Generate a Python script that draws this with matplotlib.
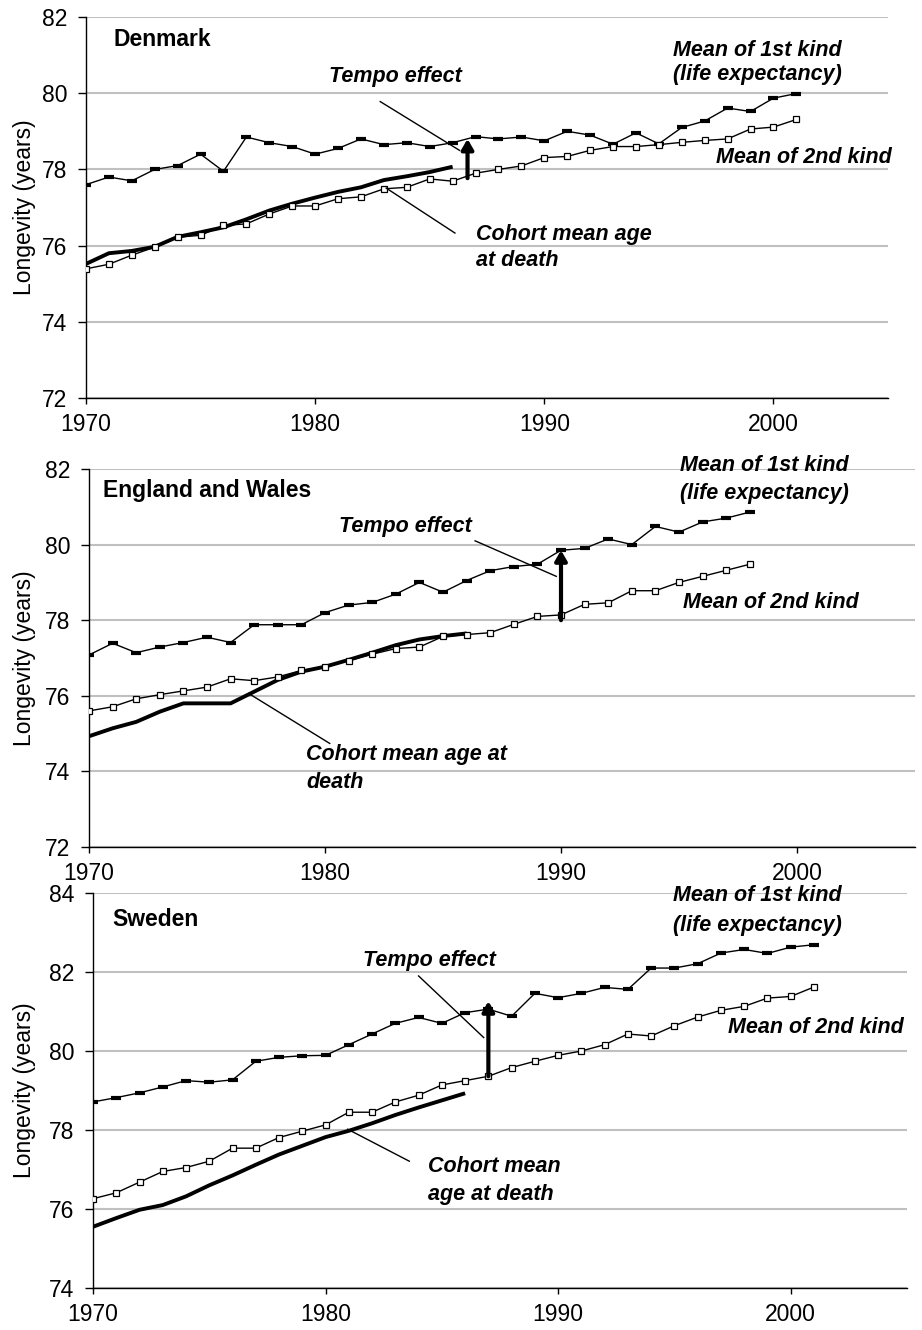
import numpy as np
import matplotlib
matplotlib.use('Agg')
import matplotlib.pyplot as plt
import matplotlib.transforms as mtransforms

plt.rcParams['font.family'] = ['Liberation Sans', 'DejaVu Sans']

# Data
dk_years = list(range(1970, 2002))
dk_first = [77.6, 77.8, 77.7, 78.0, 78.1, 78.4, 77.95, 78.85, 78.7, 78.6,
            78.4, 78.55, 78.8, 78.65, 78.7, 78.6, 78.7, 78.86, 78.8, 78.85,
            78.75, 79.0, 78.9, 78.66, 78.96, 78.67, 79.1, 79.27, 79.61, 79.52,
            79.87, 79.99]
dk_second = [75.39, 75.51, 75.75, 75.96, 76.22, 76.27, 76.53, 76.57, 76.83, 77.04,
             77.04, 77.23, 77.28, 77.49, 77.53, 77.75, 77.69, 77.9, 78.0, 78.09,
             78.31, 78.34, 78.5, 78.6, 78.6, 78.65, 78.71, 78.76, 78.8, 79.06,
             79.11, 79.31]
dk_cohort_years = list(range(1970, 1987))
dk_cohort = [75.52, 75.8, 75.86, 75.97, 76.23, 76.35, 76.48, 76.69, 76.92, 77.1,
             77.26, 77.41, 77.53, 77.72, 77.82, 77.93, 78.07]

ew_years = list(range(1970, 1999))
ew_first = [77.08, 77.39, 77.14, 77.29, 77.41, 77.55, 77.41, 77.88, 77.88, 77.88,
            78.2, 78.4, 78.47, 78.69, 79.0, 78.74, 79.05, 79.31, 79.42, 79.48,
            79.85, 79.9, 80.15, 80.0, 80.48, 80.33, 80.6, 80.7, 80.86]
ew_second = [75.6, 75.71, 75.92, 76.03, 76.13, 76.23, 76.45, 76.4, 76.5, 76.67,
             76.77, 76.93, 77.1, 77.25, 77.29, 77.57, 77.62, 77.67, 77.89, 78.1,
             78.14, 78.42, 78.46, 78.78, 78.78, 79.0, 79.16, 79.32, 79.48]
ew_cohort_years = list(range(1970, 1987))
ew_cohort = [74.93, 75.14, 75.31, 75.58, 75.8, 75.8, 75.8, 76.11, 76.42, 76.64,
             76.77, 76.95, 77.14, 77.34, 77.49, 77.58, 77.65]

se_years = list(range(1970, 2002))
se_first = [78.71, 78.82, 78.94, 79.09, 79.25, 79.21, 79.27, 79.74, 79.84, 79.88,
            79.89, 80.16, 80.43, 80.7, 80.85, 80.7, 80.97, 81.06, 80.88, 81.46,
            81.35, 81.46, 81.61, 81.56, 82.1, 82.1, 82.21, 82.48, 82.57, 82.47,
            82.63, 82.69]
se_second = [76.26, 76.41, 76.68, 76.95, 77.05, 77.21, 77.54, 77.54, 77.81, 77.97,
             78.13, 78.45, 78.45, 78.71, 78.88, 79.14, 79.25, 79.36, 79.58, 79.74,
             79.89, 80.0, 80.16, 80.43, 80.38, 80.64, 80.86, 81.03, 81.13, 81.34,
             81.38, 81.62]
se_cohort_years = list(range(1970, 1987))
se_cohort = [75.55, 75.77, 75.98, 76.1, 76.32, 76.6, 76.85, 77.12, 77.38, 77.6,
             77.82, 77.98, 78.17, 78.38, 78.57, 78.75, 78.93]

x_ticks = [1970, 1980, 1990, 2000]

W, H = 922, 1330
fig = plt.figure(figsize=(W / 100, H / 100), dpi=100)

def make_ax(left, right, top, bottom):
    return fig.add_axes([left / W, 1 - bottom / H, (right - left) / W, (bottom - top) / H])

ann = dict(fontsize=15.5, fontweight='bold', fontstyle='italic')
tick_family = ['Liberation Sans Narrow', 'Liberation Sans', 'DejaVu Sans']

def panel(ax, yrs, first, second, cyrs, cohort, ylim, yticks):
    ax.plot(yrs, first, color='black', lw=1.0, marker='_', ms=6.5, mew=3.0, zorder=3)
    ax.plot(cyrs, cohort, color='black', lw=2.8, solid_capstyle='butt', zorder=3)
    ax.plot(yrs, second, color='black', lw=1.0, marker='s', ms=5, mfc='white',
            mec='black', mew=0.9, zorder=4)
    ax.set_xlim(1970, 2005)
    ax.set_ylim(*ylim)
    ax.set_xticks(x_ticks)
    ax.set_yticks(yticks)
    ax.yaxis.grid(True, color='#c0c0c0', lw=1.5)
    ax.set_axisbelow(True)
    for s in ['top', 'right']:
        ax.spines[s].set_visible(False)
    for s in ['left', 'bottom']:
        ax.spines[s].set_linewidth(1.0)
    ax.tick_params(axis='x', direction='out', length=4.5, width=1, pad=6)
    ax.tick_params(axis='y', direction='out', length=5.5, width=1, pad=8)
    for lab in ax.get_xticklabels() + ax.get_yticklabels():
        lab.set_family(tick_family)
        lab.set_fontsize(16.5)
    ax.set_ylabel('Longevity (years)', fontsize=16.5)
    # label centre about 23 px from the left edge of the figure
    trans = mtransforms.blended_transform_factory(fig.transFigure, ax.transAxes)
    ax.yaxis.set_label_coords(36 / W, 0.5, transform=trans)

def arrow(ax, x, y0, y1):
    ax.annotate('', xy=(x, y1), xytext=(x, y0),
                arrowprops=dict(arrowstyle='-|>,head_length=0.6,head_width=0.35',
                                lw=3, color='black', shrinkA=0, shrinkB=0), zorder=5)

def leader(ax, x0, y0, x1, y1):
    ax.plot([x0, x1], [y0, y1], color='black', lw=1.0, zorder=5)

# Denmark
ax1 = make_ax(86, 888, 17, 398)
panel(ax1, dk_years, dk_first, dk_second, dk_cohort_years, dk_cohort, (72, 82), range(72, 83, 2))
ax1.text(1971.2, 81.4, 'Denmark', fontsize=16.5, fontweight='bold', va='center')
ax1.text(1995.6, 81.13, 'Mean of 1st kind', va='center', **ann)
ax1.text(1995.6, 80.48, '(life expectancy)', va='center', **ann)
ax1.text(1997.5, 78.3, 'Mean of 2nd kind', va='center', **ann)
ax1.text(1986.4, 80.44, 'Tempo effect', va='center', ha='right', **ann)
ax1.text(1987.0, 76.3, 'Cohort mean age', va='center', **ann)
ax1.text(1987.0, 75.6, 'at death', va='center', **ann)
leader(ax1, 1982.84, 79.78, 1986.3, 78.5)
leader(ax1, 1983.1, 77.51, 1986.1, 76.33)
arrow(ax1, 1986.65, 77.77, 78.8)

# England and Wales
ax2 = make_ax(89, 915, 469, 847)
panel(ax2, ew_years, ew_first, ew_second, ew_cohort_years, ew_cohort, (72, 82), range(72, 83, 2))
ax2.text(1970.6, 81.44, 'England and Wales', fontsize=16.5, fontweight='bold', va='center')
ax2.text(1995.06, 82.08, 'Mean of 1st kind', va='center', **ann)
ax2.text(1995.06, 81.36, '(life expectancy)', va='center', **ann)
ax2.text(1995.15, 78.47, 'Mean of 2nd kind', va='center', **ann)
ax2.text(1986.2, 80.48, 'Tempo effect', va='center', ha='right', **ann)
ax2.text(1979.2, 74.45, 'Cohort mean age at', va='center', **ann)
ax2.text(1979.2, 73.7, 'death', va='center', **ann)
leader(ax2, 1986.36, 80.1, 1989.8, 79.16)
leader(ax2, 1976.77, 76.06, 1980.2, 74.74)
arrow(ax2, 1990.0, 78.0, 79.85)

# Sweden
ax3 = make_ax(93, 907, 893, 1288)
panel(ax3, se_years, se_first, se_second, se_cohort_years, se_cohort, (74, 84), range(74, 85, 2))
ax3.text(1970.85, 83.33, 'Sweden', fontsize=16.5, fontweight='bold', va='center')
ax3.text(1994.96, 83.94, 'Mean of 1st kind', va='center', **ann)
ax3.text(1994.96, 83.18, '(life expectancy)', va='center', **ann)
ax3.text(1997.3, 80.6, 'Mean of 2nd kind', va='center', **ann)
ax3.text(1981.6, 82.3, 'Tempo effect', va='center', **ann)
ax3.text(1984.4, 77.08, 'Cohort mean', va='center', **ann)
ax3.text(1984.4, 76.37, 'age at death', va='center', **ann)
leader(ax3, 1984.0, 81.9, 1986.8, 80.34)
leader(ax3, 1980.95, 78.02, 1983.6, 77.21)
arrow(ax3, 1987.0, 79.36, 81.26)

fig.savefig('out.png', dpi=100)
